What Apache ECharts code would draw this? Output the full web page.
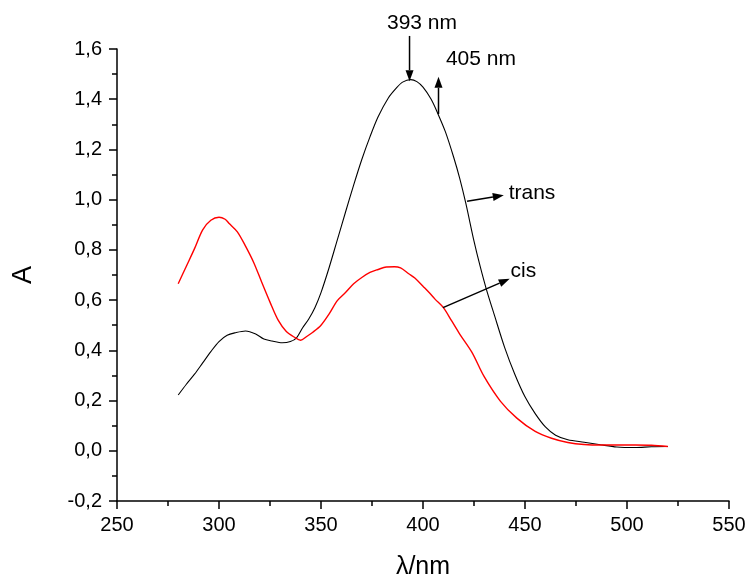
<!DOCTYPE html>
<html><head><meta charset="utf-8">
<script src="https://cdn.jsdelivr.net/npm/echarts@6/dist/echarts.min.js"></script>
<style>html,body{margin:0;padding:0;background:#fff}#c{width:750px;height:585px}</style>
</head><body><div id="c"></div>
<script>
// trans isomer spectrum (black)
const transX = [280,284,288,292,296,300,304,308,313,318,322,326,331,335,338,341,344,347,350,354,358,362,366,370,374,378,383,387,390,394,397,400,404,407,411,415,418,421,425,428,431,435,440,445,450,455,460,465,471,479,487,495,504,512,520];
const transA = [0.222,0.265,0.305,0.350,0.395,0.435,0.460,0.470,0.477,0.465,0.445,0.437,0.430,0.435,0.450,0.490,0.525,0.570,0.630,0.730,0.840,0.950,1.058,1.160,1.250,1.330,1.405,1.445,1.468,1.478,1.470,1.448,1.400,1.348,1.270,1.170,1.085,0.985,0.835,0.735,0.645,0.540,0.412,0.305,0.215,0.148,0.095,0.062,0.044,0.034,0.024,0.015,0.013,0.016,0.017];
// cis isomer spectrum (red)
const cisX = [280,284,288,292,296,300,303,305,309,313,317,321,325,329,333,337,340,343,346,350,354,358,362,366,370,374,378,382,386,389,393,396,400,403,406,410,414,418,424,430,438,446,455,463,471,479,488,504,512,520];
const cisA = [0.665,0.735,0.805,0.880,0.918,0.930,0.922,0.905,0.872,0.815,0.750,0.670,0.592,0.520,0.475,0.452,0.440,0.455,0.472,0.500,0.545,0.598,0.630,0.665,0.690,0.710,0.722,0.732,0.733,0.728,0.705,0.688,0.655,0.630,0.603,0.570,0.518,0.465,0.392,0.295,0.197,0.130,0.077,0.050,0.033,0.025,0.023,0.023,0.022,0.017];
// axis ticks
const xTickValues = [250,300,350,400,450,500,550];
const yTickValues = [-0.2,0,0.2,0.4,0.6,0.8,1.0,1.2,1.4,1.6];
// annotations (data coordinates)
const arrowFromX = [393.4, 407.6, 421.6, 409.8];
const arrowFromY = [1.652, 1.341, 0.994, 0.570];
const arrowToX   = [393.4, 407.6, 439.6, 442.5];
const arrowToY   = [1.472, 1.489, 1.018, 0.685];
const noteText  = ['393 nm','405 nm','trans','cis'];
const noteX     = [399.5, 428.4, 442.0, 442.9];
const noteY     = [1.703, 1.558, 1.027, 0.715];
const noteAlign = ['center','center','left','left'];

const FONT = "Arial, 'Liberation Sans', sans-serif";
const chart = echarts.init(document.getElementById('c'), null, {renderer:'canvas'});
const fmt = v => (Math.round(v*10)/10).toFixed(1).replace('.', ',');
const axisCommon = {
  axisLine:{show:true,onZero:false,lineStyle:{color:'#000',width:1.5}},
  axisTick:{show:true,inside:false,length:8,lineStyle:{color:'#000',width:1.5}},
  minorTick:{show:true,splitNumber:2,length:5,lineStyle:{color:'#000',width:1.5}},
  splitLine:{show:false},
};
chart.setOption({
  animation:false,
  backgroundColor:'#fff',
  grid:{left:117,top:49,right:21,bottom:80,containLabel:false},
  xAxis:Object.assign({
    type:'value', min:xTickValues[0], max:xTickValues[xTickValues.length-1], interval:50,
    name:'λ/nm', nameLocation:'middle', nameGap:54,
    nameTextStyle:{fontFamily:FONT,fontSize:25,color:'#000'},
    axisLabel:{fontFamily:FONT,fontSize:20,color:'#000',margin:14}
  },axisCommon),
  yAxis:Object.assign({
    type:'value', min:yTickValues[0], max:yTickValues[yTickValues.length-1], interval:0.2,
    name:'A', nameLocation:'middle', nameGap:80, nameRotate:90,
    nameTextStyle:{fontFamily:FONT,fontSize:27,color:'#000'},
    axisLabel:{fontFamily:FONT,fontSize:20,color:'#000',margin:15,formatter:fmt}
  },axisCommon),
  series:[
    {type:'line',name:'trans',data:transX.map((x,i)=>[x,transA[i]]),showSymbol:false,symbol:'none',smooth:0.3,
     lineStyle:{color:'#000',width:1.1},itemStyle:{color:'#000'}},
    {type:'line',name:'cis',data:cisX.map((x,i)=>[x,cisA[i]]),showSymbol:false,symbol:'none',smooth:0.3,
     lineStyle:{color:'#ff0000',width:1.4},itemStyle:{color:'#ff0000'}}
  ]
});

const g = [];
for (let i=0;i<arrowFromX.length;i++){
  const p1 = chart.convertToPixel({gridIndex:0},[arrowFromX[i],arrowFromY[i]]);
  const p2 = chart.convertToPixel({gridIndex:0},[arrowToX[i],arrowToY[i]]);
  const dx=p2[0]-p1[0], dy=p2[1]-p1[1], L=Math.hypot(dx,dy);
  const ux=dx/L, uy=dy/L, hl=11, hw=4;
  const bx=p2[0]-ux*hl, by=p2[1]-uy*hl;
  g.push({type:'line',shape:{x1:p1[0],y1:p1[1],x2:bx,y2:by},style:{stroke:'#000',lineWidth:1.5},z:100});
  g.push({type:'polygon',shape:{points:[[p2[0],p2[1]],[bx-uy*hw,by+ux*hw],[bx+uy*hw,by-ux*hw]]},style:{fill:'#000'},z:100});
}
for (let i=0;i<noteText.length;i++){
  const p = chart.convertToPixel({gridIndex:0},[noteX[i],noteY[i]]);
  g.push({type:'text',x:p[0],y:p[1],style:{text:noteText[i],fontFamily:FONT,fontSize:21,fill:'#000',align:noteAlign[i],verticalAlign:'middle'},z:100});
}
chart.setOption({graphic:g});
</script></body></html>
